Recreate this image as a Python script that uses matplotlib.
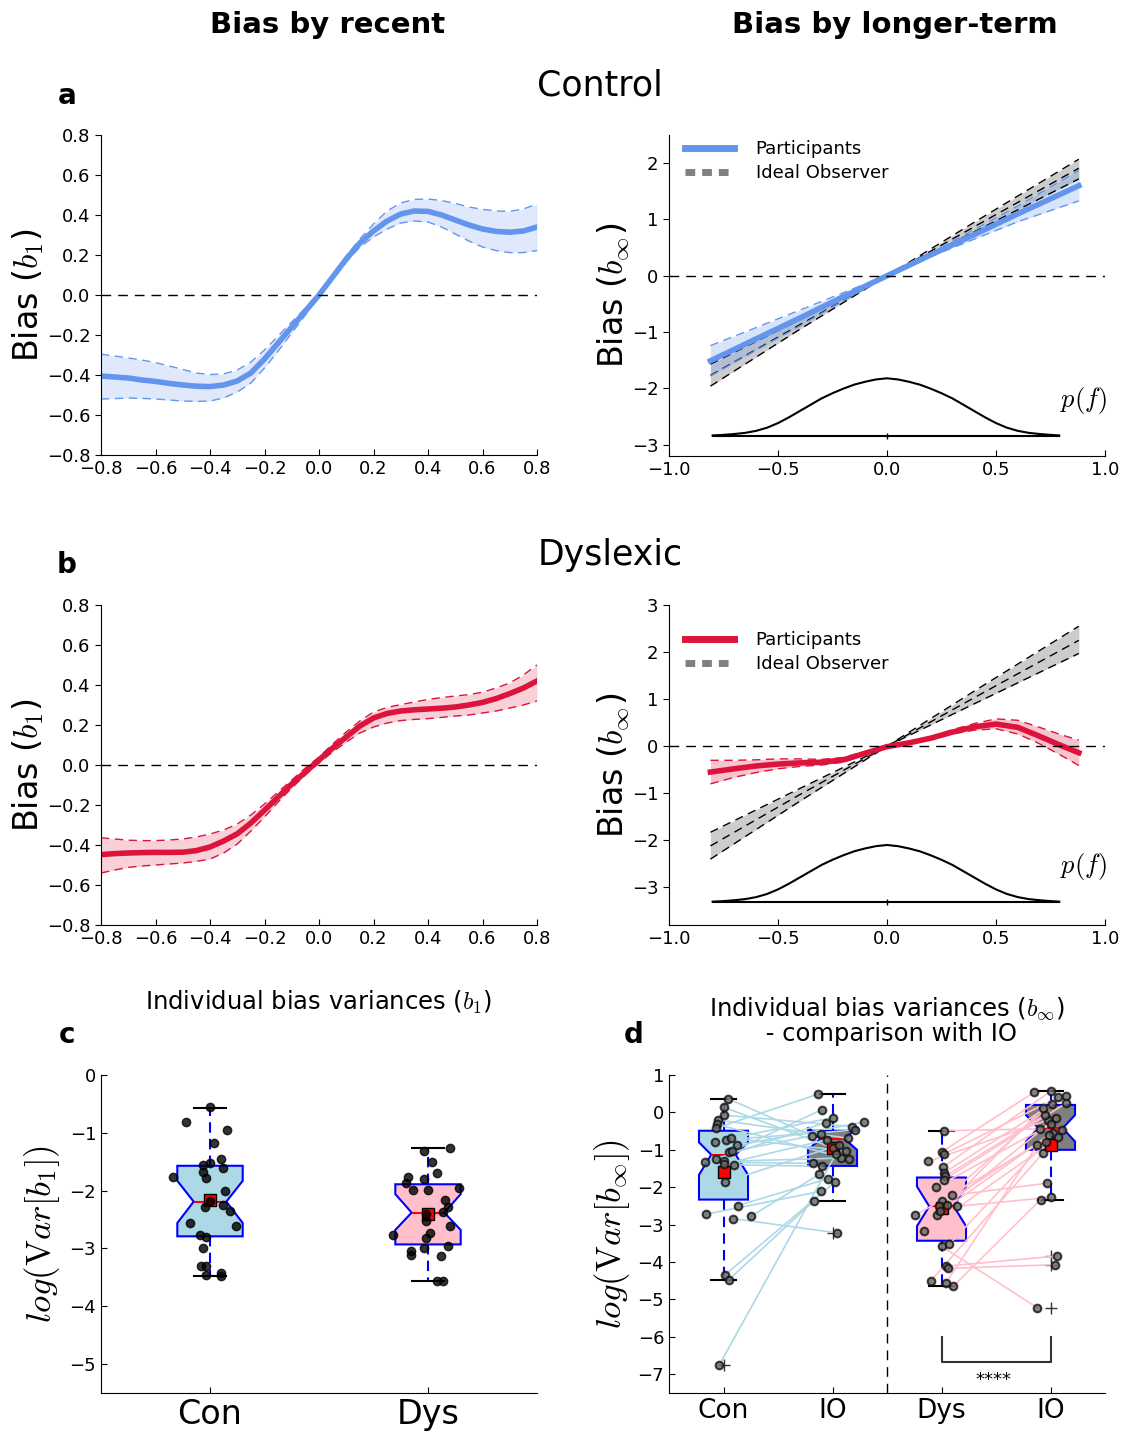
import numpy as np
import matplotlib
matplotlib.use("Agg")
import matplotlib.pyplot as plt
from matplotlib.lines import Line2D

plt.rcParams['font.family'] = 'DejaVu Sans'
plt.rcParams['mathtext.fontset'] = 'cm'

BLUE = '#6495ED'
RED = '#DC143C'
DASH = (0, (7, 5))

# ---- panels a/b left: bias by recent stimulus ----
recent_x = np.round(np.arange(-0.80, 0.801, 0.05), 2)

con_recent_mean = [-0.405, -0.41, -0.415, -0.425, -0.432, -0.442, -0.45, -0.456, -0.458,
                   -0.45, -0.43, -0.39, -0.32, -0.24, -0.16, -0.08, 0.00, 0.09, 0.18,
                   0.26, 0.32, 0.37, 0.405, 0.42, 0.418, 0.40, 0.375, 0.35, 0.33, 0.318,
                   0.314, 0.32, 0.34]
con_recent_hi = [-0.296, -0.305, -0.315, -0.325, -0.338, -0.355, -0.372, -0.39, -0.398,
                 -0.395, -0.375, -0.335, -0.275, -0.205, -0.135, -0.065, 0.01, 0.10, 0.195,
                 0.28, 0.355, 0.42, 0.46, 0.478, 0.48, 0.472, 0.458, 0.44, 0.428, 0.42,
                 0.418, 0.43, 0.455]
con_recent_lo = [-0.52, -0.518, -0.515, -0.517, -0.52, -0.525, -0.53, -0.532, -0.53,
                 -0.515, -0.485, -0.44, -0.365, -0.28, -0.19, -0.10, -0.01, 0.08, 0.165,
                 0.24, 0.29, 0.33, 0.36, 0.37, 0.365, 0.34, 0.305, 0.27, 0.24, 0.222,
                 0.212, 0.212, 0.222]

dys_recent_mean = [-0.448, -0.443, -0.44, -0.438, -0.437, -0.437, -0.436, -0.428, -0.41,
                   -0.38, -0.344, -0.29, -0.226, -0.16, -0.095, -0.035, 0.025, 0.085, 0.14,
                   0.195, 0.235, 0.258, 0.27, 0.276, 0.28, 0.284, 0.29, 0.30, 0.313, 0.332,
                   0.357, 0.385, 0.42]
dys_recent_hi = [-0.364, -0.37, -0.376, -0.378, -0.378, -0.375, -0.37, -0.36, -0.345,
                 -0.325, -0.295, -0.25, -0.195, -0.135, -0.075, -0.015, 0.04, 0.105, 0.165,
                 0.22, 0.265, 0.288, 0.302, 0.315, 0.328, 0.337, 0.345, 0.352, 0.364, 0.385,
                 0.41, 0.45, 0.50]
dys_recent_lo = [-0.54, -0.525, -0.512, -0.505, -0.50, -0.495, -0.49, -0.482, -0.47,
                 -0.44, -0.395, -0.33, -0.26, -0.185, -0.115, -0.05, 0.01, 0.065, 0.115,
                 0.16, 0.19, 0.21, 0.222, 0.228, 0.232, 0.238, 0.245, 0.25, 0.26, 0.27,
                 0.285, 0.30, 0.32]

# ---- panels a/b right: bias by longer-term ----
con_long_x = [-0.81, -0.6, -0.4, -0.2, 0.0, 0.2, 0.4, 0.6, 0.88]
con_long_mean = [-1.51, -1.12, -0.75, -0.37, 0.0, 0.37, 0.73, 1.10, 1.60]
con_long_hi = [-1.24, -0.92, -0.61, -0.30, 0.01, 0.40, 0.82, 1.24, 1.87]
con_long_lo = [-1.78, -1.32, -0.89, -0.44, -0.01, 0.34, 0.65, 0.96, 1.33]

dys_long_x = [-0.81, -0.7, -0.6, -0.5, -0.4, -0.3, -0.2, -0.1, 0.0, 0.1, 0.2, 0.3,
              0.4, 0.5, 0.6, 0.7, 0.8, 0.88]
dys_long_mean = [-0.55, -0.48, -0.42, -0.38, -0.355, -0.34, -0.29, -0.15, -0.01, 0.07,
                 0.17, 0.30, 0.41, 0.47, 0.40, 0.21, 0.01, -0.14]
dys_long_hi = [-0.30, -0.30, -0.29, -0.27, -0.27, -0.28, -0.24, -0.11, 0.0, 0.09, 0.20,
               0.35, 0.48, 0.58, 0.55, 0.40, 0.24, 0.13]
dys_long_lo = [-0.80, -0.66, -0.56, -0.48, -0.43, -0.40, -0.34, -0.18, -0.03, 0.05, 0.13,
               0.26, 0.34, 0.37, 0.26, 0.05, -0.20, -0.41]

io_x = [-0.81, -0.4, 0.0, 0.4, 0.88]
con_io_mean = [-1.77, -0.87, 0.0, 0.87, 1.91]
con_io_hi = [-1.57, -0.78, 0.0, 0.95, 2.07]
con_io_lo = [-1.96, -0.95, 0.0, 0.78, 1.72]
dys_io_mean = [-2.12, -1.03, 0.0, 1.03, 2.25]
dys_io_hi = [-1.83, -0.90, 0.0, 1.17, 2.55]
dys_io_lo = [-2.40, -1.17, 0.0, 0.90, 1.97]

# stimulus distribution p(f), relative height
pf_x = [-0.80, -0.75, -0.70, -0.65, -0.60, -0.55, -0.50, -0.45, -0.40, -0.35, -0.30,
        -0.25, -0.20, -0.15, -0.10, -0.05, 0.00, 0.05, 0.10, 0.15, 0.20, 0.25, 0.30,
        0.35, 0.40, 0.45, 0.50, 0.55, 0.60, 0.65, 0.70, 0.75, 0.79]
pf_rel = [0.005, 0.015, 0.03, 0.05, 0.085, 0.14, 0.22, 0.32, 0.43, 0.54, 0.65, 0.74,
          0.82, 0.89, 0.94, 0.98, 1.0, 0.98, 0.94, 0.89, 0.82, 0.74, 0.65, 0.54, 0.43,
          0.32, 0.22, 0.14, 0.085, 0.05, 0.03, 0.015, 0.005]
pf_con = (-2.84, -1.82)   # baseline, peak
pf_dys = (-3.31, -2.10)

# ---- panel c: log variance of b1 ----
c_con_x = [1.0, 0.89, 1.08, 1.02, 1.05, 0.97, 1.0, 1.06, 0.83, 0.97, 0.98, 1.07, 1.0,
           0.975, 1.06, 1.09, 0.91, 1.12, 0.955, 0.98, 0.97, 0.96, 0.98, 0.98, 1.05, 1.05]
c_con_y = [-0.55, -0.82, -0.95, -1.18, -1.46, -1.55, -1.52, -1.61, -1.77, -1.68, -1.78,
           -2.0, -2.18, -2.29, -2.24, -2.36, -2.56, -2.61, -2.77, -2.81, -3.0, -3.30,
           -3.31, -3.46, -3.43, -3.47]
c_dys_x = [2.10, 1.98, 2.02, 2.04, 1.91, 1.90, 1.98, 1.93, 2.0, 2.14, 2.08, 2.09, 2.07,
           1.99, 1.99, 2.10, 1.84, 2.01, 1.99, 1.98, 2.09, 1.92, 1.92, 2.06, 2.04, 2.07]
c_dys_y = [-1.26, -1.32, -1.51, -1.70, -1.77, -1.87, -1.80, -1.99, -1.99, -1.96, -2.16,
           -2.29, -2.37, -2.41, -2.52, -2.61, -2.77, -2.74, -2.82, -3.0, -2.96, -3.04,
           -3.12, -3.13, -3.56, -3.56]
c_labels = ['Con', 'Dys']
# box summaries: med, q1, q3, whislo, whishi, cilo, cihi, mean
c_con_box = [-2.19, -2.79, -1.57, -3.47, -0.57, -2.56, -1.83, -2.17]
c_dys_box = [-2.38, -2.93, -1.89, -3.56, -1.26, -2.68, -2.06, -2.41]

# ---- panel d: log variance of b_inf, participants vs ideal observer ----
d_con_x = [1.04, 1.0, 1.0, 0.95, 0.94, 0.93, 0.92, 1.02, 1.07, 1.12, 1.05, 1.08, 0.83,
           0.93, 1.0, 1.0, 1.10, 1.01, 0.84, 1.13, 1.09, 1.25, 1.01, 1.05, 0.96]
d_con_y = [0.37, 0.14, -0.07, -0.20, -0.32, -0.42, -0.78, -0.73, -0.69, -0.88, -1.06,
           -1.04, -1.33, -1.24, -1.31, -1.38, -1.40, -1.86, -2.72, -2.49, -2.84, -2.78,
           -4.35, -4.47, -6.76]
d_coni_x = [1.81, 2.0, 2.18, 2.14, 2.15, 1.87, 2.0, 2.21, 2.12, 2.29, 1.89, 1.90, 1.82,
            1.94, 2.08, 1.95, 1.90, 2.06, 1.89, 1.96, 2.04, 1.88, 2.02, 1.83, 2.03]
d_coni_y = [-0.62, -0.94, -0.38, -0.69, -1.25, 0.49, -0.14, -0.47, -1.03, -0.26, -0.58,
            0.07, -1.36, -0.27, -1.22, -0.73, -1.44, -0.87, -2.11, -1.77, -3.22, -1.65,
            -1.87, -2.36, -1.12]
d_dys_x = [3.02, 3.0, 3.02, 2.88, 3.01, 3.02, 3.03, 3.02, 2.95, 3.10, 3.0, 2.98, 3.05,
           3.14, 2.76, 2.96, 2.99, 2.84, 3.0, 3.07, 3.04, 3.06, 2.90, 3.04, 3.11]
d_dys_y = [-0.49, -1.06, -1.12, -1.31, -1.47, -1.62, -1.71, -1.80, -2.00, -2.22, -2.38,
           -2.51, -2.47, -2.51, -2.75, -2.73, -2.63, -3.18, -3.58, -3.53, -4.11, -4.17,
           -4.51, -4.56, -4.64]
d_dysi_x = [3.90, 3.85, 4.07, 3.98, 4.0, 4.14, 3.95, 4.14, 4.0, 3.97, 4.01, 4.02, 3.93,
            4.0, 4.11, 3.99, 4.05, 4.07, 3.88, 3.96, 4.06, 4.04, 3.93, 3.88, 3.91]
d_dysi_y = [-0.44, 0.54, 0.40, -0.20, 0.56, 0.45, -0.07, 0.24, -0.32, -1.89, 0.22, -0.56,
            0.11, -2.27, -0.47, -0.60, -0.16, -0.67, -5.22, -0.78, -3.84, -4.07, -1.09,
            -0.87, -2.33]
d_labels = ['Con', 'IO', 'Dys', 'IO']
d_con_box = [-1.13, -2.33, -0.49, -4.47, 0.37, -1.67, -0.80, -1.58]
d_coni_box = [-0.71, -1.43, -0.49, -2.36, 0.49, -1.00, -0.40, -0.96]
d_dys_box = [-2.51, -3.43, -1.74, -4.64, -0.49, -3.04, -1.98, -2.55]
d_dysi_box = [-0.42, -1.00, 0.20, -2.33, 0.56, -0.78, -0.07, -0.87]
d_fliers = [[-6.76], [-3.22], [], [-3.84, -4.07, -5.22]]


def style_axis(ax, ydir='out'):
    for side in ['top', 'right']:
        ax.spines[side].set_visible(False)
    ax.tick_params(axis='x', direction='in', length=4, labelsize=13, top=False)
    ax.tick_params(axis='y', direction=ydir, length=4, labelsize=13, right=False)


def draw_recent(ax, mean, hi, lo, color):
    ax.fill_between(recent_x, lo, hi, color=color, alpha=0.2, lw=0)
    ax.plot(recent_x, hi, color=color, lw=1, ls=(0, (6, 4)))
    ax.plot(recent_x, lo, color=color, lw=1, ls=(0, (6, 4)))
    ax.plot(recent_x, mean, color=color, lw=4)
    ax.axhline(0, color='k', ls=DASH, lw=1)
    ax.set_xlim(-0.8, 0.8)
    ax.set_ylim(-0.8, 0.8)
    ax.set_xticks(np.round(np.arange(-0.8, 0.81, 0.2), 1))
    ax.set_yticks(np.round(np.arange(-0.8, 0.81, 0.2), 1))
    ax.set_ylabel(r'Bias ($b_1$)', fontsize=24)
    ax.yaxis.set_label_coords(-0.126, 0.5)
    style_axis(ax)


def draw_longer(ax, x, mean, hi, lo, color, io_mean, io_hi, io_lo, pf, ylim, legend_y):
    # ideal observer band
    ax.fill_between(io_x, io_lo, io_hi, color='gray', alpha=0.4, lw=0)
    for ys in (io_hi, io_lo, io_mean):
        ax.plot(io_x, ys, color='k', lw=1, ls=(0, (6, 4)))
    # participants
    ax.fill_between(x, lo, hi, color=color, alpha=0.25, lw=0)
    ax.plot(x, hi, color=color, lw=1, ls=(0, (6, 4)))
    ax.plot(x, lo, color=color, lw=1, ls=(0, (6, 4)))
    ax.plot(x, mean, color=color, lw=4)
    ax.axhline(0, color='k', ls=DASH, lw=1)
    # stimulus distribution
    base, top = pf
    pf_y = [base + r * (top - base) for r in pf_rel]
    ax.plot([pf_x[0], pf_x[-1]], [base, base], color='k', lw=1.5)
    ax.plot(pf_x, pf_y, color='k', lw=1.5)
    ax.plot([0], [base], marker='|', color='k', ms=5)
    ax.text(0.9, base + 0.62 * (top - base), r'$p(f)$', fontsize=19,
            ha='center', va='center')
    ax.set_xlim(-1.0, 1.0)
    ax.set_ylim(*ylim)
    ax.set_xticks([-1.0, -0.5, 0.0, 0.5, 1.0])
    ax.set_yticks(range(int(np.ceil(ylim[0])), int(ylim[1]) + 1))
    ax.set_ylabel(r'Bias ($b_\infty$)', fontsize=24)
    ax.yaxis.set_label_coords(-0.085, 0.5)
    style_axis(ax)
    handles = [Line2D([0], [0], color=color, lw=5),
               Line2D([0], [0], color='gray', lw=5, ls=(0, (1.4, 1.0)))]
    ax.legend(handles, ['Participants', 'Ideal Observer'], loc='upper left',
              bbox_to_anchor=(0.0, legend_y), frameon=False, fontsize=13,
              handlelength=2.7, handletextpad=1.2, labelspacing=0.35)


def box_stats(vals, fliers=()):
    med, q1, q3, lo, hi, cilo, cihi, mean = vals
    return dict(med=med, q1=q1, q3=q3, whislo=lo, whishi=hi, cilo=cilo, cihi=cihi,
                mean=mean, fliers=list(fliers))


def draw_boxes(ax, stats, positions, widths, colors):
    bp = ax.bxp(stats, positions=positions, widths=widths, patch_artist=True,
                shownotches=True, showmeans=True, showfliers=True,
                boxprops=dict(edgecolor='blue', linewidth=1.5),
                medianprops=dict(color='red', linewidth=1.5),
                whiskerprops=dict(color='blue', linestyle=(0, (5, 3)), linewidth=1.5),
                capprops=dict(color='k', linewidth=1.5),
                meanprops=dict(marker='s', markerfacecolor='red', markeredgecolor='k',
                               markersize=9, zorder=4),
                flierprops=dict(marker='+', markeredgecolor='#333333', markersize=9))
    for patch, c in zip(bp['boxes'], colors):
        patch.set_facecolor(c)
    return bp


fig = plt.figure(figsize=(11.22, 14.32), dpi=100)
W, H = 1122.0, 1432.0


def add_ax(left, top, right, bottom):
    return fig.add_axes([left / W, 1 - bottom / H, (right - left) / W, (bottom - top) / H])


ax_a1 = add_ax(101, 135, 537, 455)
ax_a2 = add_ax(669, 135, 1105, 456)
ax_b1 = add_ax(101, 605, 537, 925)
ax_b2 = add_ax(669, 605, 1105, 925)
ax_c = add_ax(101, 1075, 537, 1393)
ax_d = add_ax(669, 1075, 1105, 1393)

draw_recent(ax_a1, con_recent_mean, con_recent_hi, con_recent_lo, BLUE)
draw_recent(ax_b1, dys_recent_mean, dys_recent_hi, dys_recent_lo, RED)
draw_longer(ax_a2, con_long_x, con_long_mean, con_long_hi, con_long_lo, BLUE,
            con_io_mean, con_io_hi, con_io_lo, pf_con, (-3.2, 2.5), 1.035)
draw_longer(ax_b2, dys_long_x, dys_long_mean, dys_long_hi, dys_long_lo, RED,
            dys_io_mean, dys_io_hi, dys_io_lo, pf_dys, (-3.8, 3.0), 0.97)

# panel c
draw_boxes(ax_c, [box_stats(c_con_box), box_stats(c_dys_box)], [1, 2], 0.3,
           ['lightblue', 'pink'])
ax_c.plot(c_con_x, c_con_y, 'o', color='k', ms=6, alpha=0.8, zorder=5)
ax_c.plot(c_dys_x, c_dys_y, 'o', color='k', ms=6, alpha=0.8, zorder=5)
ax_c.set_xlim(0.5, 2.5)
ax_c.set_ylim(-5.5, 0)
ax_c.set_xticks([1, 2])
ax_c.set_xticklabels(c_labels)
ax_c.set_yticks(range(-5, 1))
style_axis(ax_c, 'in')
ax_c.tick_params(axis='x', labelsize=24)
ax_c.set_ylabel(r'$log(\mathrm{V}ar[b_1])$', fontsize=25)
ax_c.yaxis.set_label_coords(-0.09, 0.5)

# panel d
d_stats = [box_stats(d_con_box, d_fliers[0]), box_stats(d_coni_box, d_fliers[1]),
           box_stats(d_dys_box, d_fliers[2]), box_stats(d_dysi_box, d_fliers[3])]
draw_boxes(ax_d, d_stats, [1, 2, 3, 4], 0.45, ['lightblue', 'gray', 'pink', 'gray'])
for x0, y0, x1, y1 in zip(d_con_x, d_con_y, d_coni_x, d_coni_y):
    ax_d.plot([x0, x1], [y0, y1], color='lightblue', lw=1.2, zorder=3)
for x0, y0, x1, y1 in zip(d_dys_x, d_dys_y, d_dysi_x, d_dysi_y):
    ax_d.plot([x0, x1], [y0, y1], color='pink', lw=1.2, zorder=3)
for xs, ys in [(d_con_x, d_con_y), (d_coni_x, d_coni_y), (d_dys_x, d_dys_y),
               (d_dysi_x, d_dysi_y)]:
    ax_d.plot(xs, ys, 'o', markerfacecolor='#666666', markeredgecolor='#111111',
              mew=1.5, ms=5.5, alpha=0.8, zorder=5)
ax_d.axvline(2.5, color='k', ls=DASH, lw=1)
# significance bracket
ax_d.plot([3, 3, 4, 4], [-6.0, -6.68, -6.68, -6.0], color='#333333', lw=1.5)
ax_d.text(3.48, -7.15, '****', ha='center', va='center', fontsize=13)
ax_d.set_xlim(0.5, 4.5)
ax_d.set_ylim(-7.5, 1)
ax_d.set_xticks([1, 2, 3, 4])
ax_d.set_xticklabels(d_labels)
ax_d.set_yticks(range(-7, 2))
style_axis(ax_d, 'in')
ax_d.tick_params(axis='x', labelsize=19)
ax_d.set_ylabel(r'$log(\mathrm{V}ar[b_\infty])$', fontsize=25)
ax_d.yaxis.set_label_coords(-0.085, 0.5)

# titles and panel letters
fig.text(328 / W, 1 - 25 / H, 'Bias by recent', fontsize=21, fontweight='bold',
         ha='center', va='center')
fig.text(895 / W, 1 - 25 / H, 'Bias by longer-term', fontsize=21, fontweight='bold',
         ha='center', va='center')
fig.text(600 / W, 1 - 85 / H, 'Control', fontsize=25, ha='center', va='center')
fig.text(610 / W, 1 - 555 / H, 'Dyslexic', fontsize=25, ha='center', va='center')
fig.text(319 / W, 1 - 1002 / H, r'Individual bias variances ($b_1$)', fontsize=17.5,
         ha='center', va='center')
fig.text(887 / W, 1 - 1021 / H,
         'Individual bias variances ($b_\\infty$)\n - comparison with IO',
         fontsize=17.5, ha='center', va='center', multialignment='center',
         linespacing=1.0)
for letter, x, y in [('a', 67, 96), ('b', 67, 565), ('c', 67, 1035), ('d', 634, 1035)]:
    fig.text(x / W, 1 - y / H, letter, fontsize=20, fontweight='bold',
             ha='center', va='center')

fig.savefig('out.png', dpi=100)
